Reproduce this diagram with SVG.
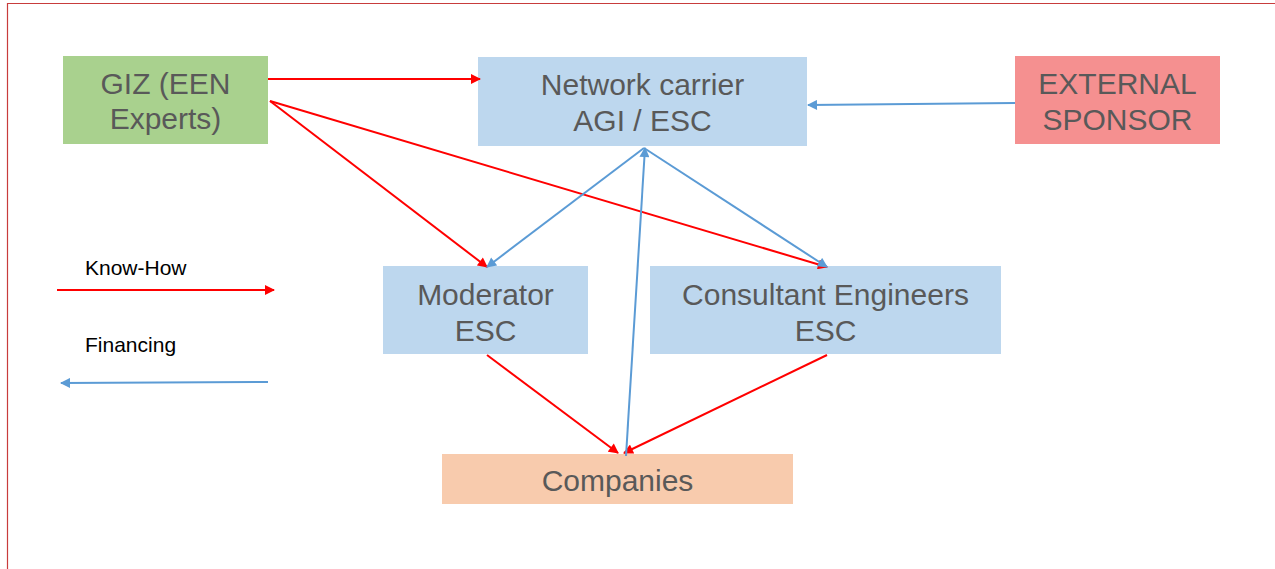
<svg xmlns="http://www.w3.org/2000/svg" width="1275" height="569" viewBox="0 0 1275 569">
<defs>
<style>
.lbl{font-family:"Liberation Sans",Arial,sans-serif;font-size:30px;fill:#595959;text-anchor:middle}
.leg{font-family:"Liberation Sans",Arial,sans-serif;font-size:21px;fill:#000}
.red{stroke:#ff0000;stroke-width:2;fill:none;marker-end:url(#ar)}
.blue{stroke:#5b9bd5;stroke-width:2;fill:none;marker-end:url(#ab)}
</style>
<marker id="ar" viewBox="0 0 10 10" refX="9" refY="5" markerWidth="11" markerHeight="10" markerUnits="userSpaceOnUse" orient="auto"><path d="M0,0 L10,5 L0,10 z" fill="#ff0000"/></marker>
<marker id="ab" viewBox="0 0 10 10" refX="9" refY="5" markerWidth="11" markerHeight="10" markerUnits="userSpaceOnUse" orient="auto"><path d="M0,0 L10,5 L0,10 z" fill="#5b9bd5"/></marker>
</defs>
<rect width="1275" height="569" fill="#fff"/>
<path d="M7.5,569 V3.5 H1275" stroke="#c83c3c" stroke-width="1.2" fill="none"/>
<g id="giz"><rect x="63" y="56" width="205" height="88" fill="#a9d18e"/><text class="lbl" x="165.5" y="94">GIZ (EEN</text><text class="lbl" x="165.5" y="129">Experts)</text></g>
<g id="network"><rect x="478" y="57" width="329" height="89" fill="#bdd7ee"/><text class="lbl" x="642.5" y="95">Network carrier</text><text class="lbl" x="642.5" y="131">AGI / ESC</text></g>
<g id="sponsor"><rect x="1015" y="56" width="205" height="88" fill="#f59090"/><text class="lbl" x="1117.5" y="94">EXTERNAL</text><text class="lbl" x="1117.5" y="130">SPONSOR</text></g>
<g id="moderator"><rect x="383" y="266" width="205" height="88" fill="#bdd7ee"/><text class="lbl" x="485.5" y="305">Moderator</text><text class="lbl" x="485.5" y="341">ESC</text></g>
<g id="consultant"><rect x="650" y="266" width="351" height="88" fill="#bdd7ee"/><text class="lbl" x="825.5" y="305">Consultant Engineers</text><text class="lbl" x="825.5" y="341">ESC</text></g>
<g id="companies"><rect x="442" y="454" width="351" height="50" fill="#f8cbad"/><text class="lbl" x="617.5" y="491">Companies</text></g>
<g id="legend">
<text class="leg" x="85" y="275">Know-How</text>
<line class="red" x1="57" y1="290" x2="274" y2="290"/>
<text class="leg" x="85" y="352">Financing</text>
<line class="blue" x1="268" y1="382" x2="61" y2="383"/>
</g>
<g id="connectors">
<line class="red" x1="268" y1="79" x2="480" y2="79"/>
<line class="red" x1="270" y1="101" x2="487" y2="267"/>
<line class="red" x1="270" y1="101" x2="827" y2="267"/>
<line class="red" x1="487" y1="355" x2="618" y2="453"/>
<line class="red" x1="827" y1="355" x2="624" y2="453"/>
<line class="blue" x1="1015" y1="103" x2="808" y2="105"/>
<line class="blue" x1="644" y1="148" x2="487" y2="267"/>
<line class="blue" x1="644" y1="148" x2="827" y2="267"/>
<line class="blue" x1="626" y1="456" x2="645" y2="148"/>
</g>
</svg>
